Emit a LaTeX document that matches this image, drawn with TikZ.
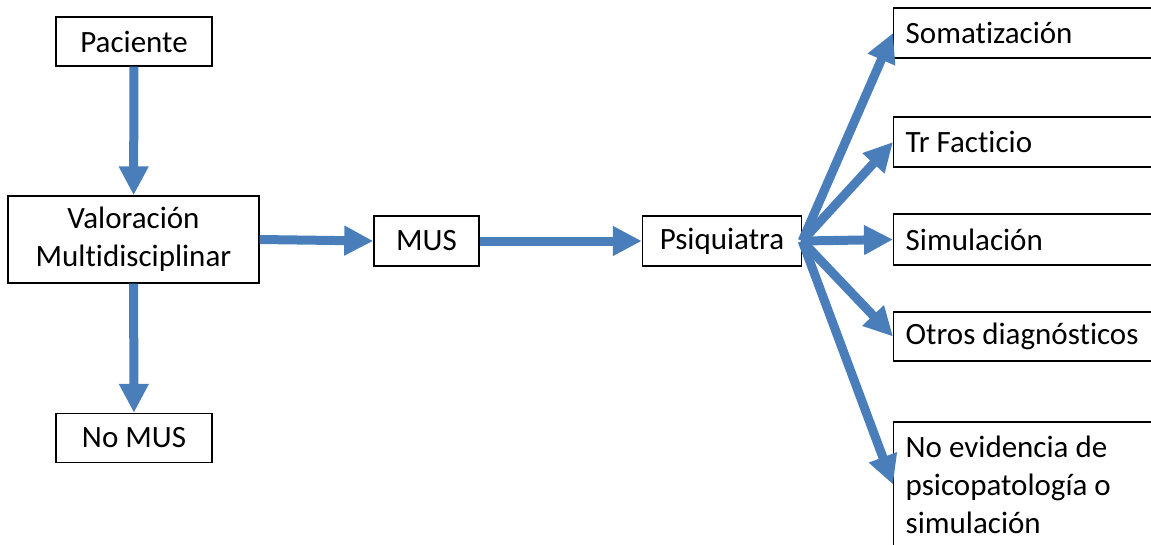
\documentclass[tikz,border=0pt]{standalone}
\usepackage{fontspec}
\setmainfont{Carlito}[Ligatures={NoCommon}]
\usetikzlibrary{arrows.meta}
\definecolor{flowblue}{RGB}{74,126,187}
% natural interword spacing inside fixed-width boxes
\newcommand\plainspaces{\spaceskip=0pt\xspaceskip=0pt\relax}
\begin{document}
\begin{tikzpicture}[x=1pt,y=-1pt,
  box/.style={draw=black, line width=1.4pt, fill=white, inner sep=0pt,
    font=\fontsize{31}{38}\selectfont},
  centerbox/.style={box, align=center},
  leftbox/.style={box, anchor=west, minimum width=270pt, text width=246pt,
    inner xsep=12pt, align=left, execute at begin node=\plainspaces},
  flow/.style={draw=flowblue, line width=9pt,
    -{Triangle[width=28pt,length=29pt]}}
  ]
  \useasboundingbox (0,0) rectangle (1151,544);
  \clip (0,0) rectangle (1151,544);

  % left column and main line
  \node[centerbox, minimum width=156pt, minimum height=49pt] (pac) at (134,41.5) {Paciente};
  \node[centerbox, minimum width=251pt, minimum height=87pt] (val) at (133.5,239.5) {Valoración\\Multidisciplinar};
  \node[centerbox, minimum width=156pt, minimum height=49pt] (nomus) at (134,438) {No MUS};
  \node[centerbox, minimum width=105pt, minimum height=50pt] (mus) at (426.5,241) {MUS};
  \node[centerbox, minimum width=159pt, minimum height=50pt] (psi) at (722,241) {Psiquiatra};

  % diagnostic outcomes, boxes running off the right edge
  \node[leftbox, minimum height=50pt] (som) at (893,33) {Somatización};
  \node[leftbox, minimum height=50pt] (tr) at (893,142) {Tr Facticio};
  \node[leftbox, minimum height=51pt] (sim) at (893,239.5) {Simulación};
  \node[leftbox, minimum height=49pt] (otr) at (893,336.5) {Otros diagnósticos};
  \node[leftbox, minimum height=125pt] (noev) at (893,484.5) {No evidencia de\\psicopatología o\\simulación};

  % connectors
  \draw[flow] (pac) -- (val);
  \draw[flow] (val) -- (nomus);
  \draw[flow] (val.east) -- (mus.west);
  \draw[flow] (mus) -- (psi);
  \draw[flow] (psi.east) -- (som.west);
  \draw[flow] (psi.east) -- (tr.west);
  \draw[flow] (psi.east) -- (sim.west);
  \draw[flow] (psi.east) -- (otr.west);
  \draw[flow] (psi.east) -- (noev.west);
\end{tikzpicture}
\end{document}
